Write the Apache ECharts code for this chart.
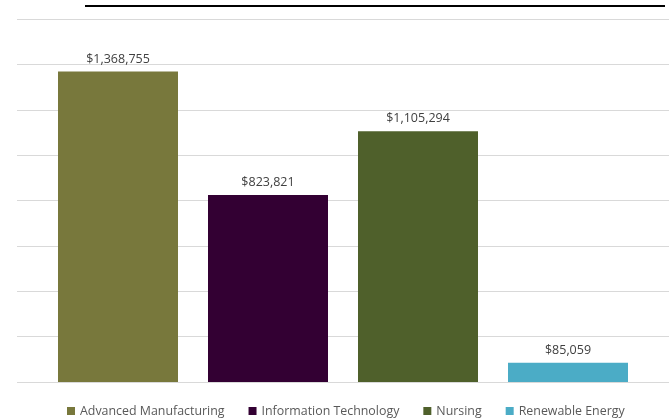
<!DOCTYPE html>
<html>
<head>
<meta charset="utf-8">
<script src="https://cdn.jsdelivr.net/npm/echarts@6/dist/echarts.min.js"></script>
<style>
html,body{margin:0;padding:0;background:#fff;}
#chart{width:669px;height:419px;}
</style>
</head>
<body>
<div id="chart"></div>
<script>
const seriesNames = ['Advanced Manufacturing', 'Information Technology', 'Nursing', 'Renewable Energy'];
const seriesValues = [1368755, 823821, 1105294, 85059];
const seriesColors = ['#78783C', '#330033', '#4F602B', '#4BACC6'];
const categories = [''];

const chart = echarts.init(document.getElementById('chart'), null, {renderer: 'canvas'});
const fmt = v => '$' + v.toLocaleString('en-US');

chart.setOption({
  animation: false,
  textStyle: {fontFamily: 'Open Sans'},
  grid: {left: 17, right: 0, top: 19, bottom: 37, containLabel: false},
  xAxis: {
    type: 'category', data: categories,
    axisLine: {show: false}, axisTick: {show: false}, axisLabel: {show: false}
  },
  yAxis: {
    type: 'value', min: 0, max: 1600000, interval: 200000,
    axisLine: {show: false}, axisTick: {show: false}, axisLabel: {show: false},
    splitLine: {lineStyle: {color: '#d9d9d9', width: 1}}
  },
  legend: {
    bottom: -3, left: 62, itemWidth: 8, itemHeight: 8, itemGap: 24, icon: 'rect',
    textStyle: {color: '#595959', fontSize: 12.4, fontFamily: 'Open Sans'},
    data: seriesNames
  },
  graphic: [{
    type: 'line', shape: {x1: 85, y1: 6, x2: 665, y2: 6},
    style: {stroke: '#000', lineWidth: 2}
  }],
  series: seriesNames.map((n, i) => ({
    name: n, type: 'bar', barWidth: 120, barGap: '25%',
    itemStyle: {color: seriesColors[i]},
    label: {show: true, position: 'top', distance: 6, color: '#404040', fontSize: 12.5,
      fontFamily: 'Open Sans', formatter: p => fmt(p.value)},
    data: [seriesValues[i]]
  }))
});
</script>
</body>
</html>
